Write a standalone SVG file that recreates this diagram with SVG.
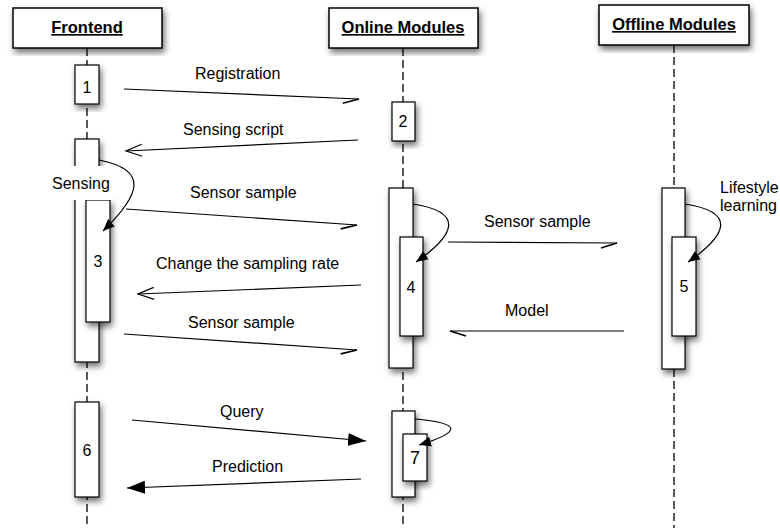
<svg xmlns="http://www.w3.org/2000/svg" width="780" height="528" viewBox="0 0 780 528">
  <defs>
    <filter id="shadow" x="-50%" y="-20%" width="200%" height="140%">
      <feDropShadow dx="2" dy="4" stdDeviation="3" flood-color="#000" flood-opacity="0.55"/>
    </filter>
    <marker id="openArrow" markerWidth="20" markerHeight="14" refX="17" refY="7" orient="auto" markerUnits="userSpaceOnUse">
      <path d="M1,1 L17,7 L1,13" fill="none" stroke="#000" stroke-width="1.2"/>
    </marker>
    <marker id="halfArrowLow" markerWidth="20" markerHeight="14" refX="17" refY="7" orient="auto" markerUnits="userSpaceOnUse">
      <path d="M1,12 L17,7" fill="none" stroke="#000" stroke-width="1.6"/>
    </marker>
    <marker id="halfArrowHigh" markerWidth="20" markerHeight="14" refX="17" refY="7" orient="auto" markerUnits="userSpaceOnUse">
      <path d="M1,2 L17,7" fill="none" stroke="#000" stroke-width="1.6"/>
    </marker>
    <marker id="solidArrow" markerWidth="20" markerHeight="14" refX="18" refY="7" orient="auto" markerUnits="userSpaceOnUse">
      <path d="M0,0.5 L18,7 L0,13.5 Z" fill="#000"/>
    </marker>
    <marker id="loopArrow" markerWidth="14" markerHeight="12" refX="12" refY="6" orient="auto" markerUnits="userSpaceOnUse">
      <path d="M0,1 L12,6 L0,11 Z" fill="#000"/>
    </marker>
  </defs>
  <style>
    .head { fill: #fff; stroke: #000; stroke-width: 1.5; filter: url(#shadow); }
    .act { fill: #fff; stroke: #000; stroke-width: 1.2; filter: url(#shadow); }
    .life { stroke: #222; stroke-width: 1.5; stroke-dasharray: 8 4; fill: none; }
    .msg { stroke: #000; stroke-width: 1.2; fill: none; }
    .headText { font-family: "Liberation Sans", Arial, sans-serif; font-size: 16.5px; font-weight: bold; text-anchor: middle; fill: #000; text-decoration: underline; }
    .lbl { font-family: "Liberation Sans", Arial, sans-serif; font-size: 16px; fill: #000; }
    .num { font-family: "Liberation Sans", Arial, sans-serif; font-size: 16px; fill: #000; text-anchor: middle; }
  </style>

  <rect width="780" height="528" fill="#fff"/>

  <!-- lifelines -->
  <g id="lifelines">
    <line class="life" x1="87" y1="48" x2="87" y2="528"/>
    <line class="life" x1="403" y1="48" x2="403" y2="528"/>
    <line class="life" x1="674" y1="45" x2="674" y2="528"/>
  </g>

  <!-- participant headers -->
  <g id="frontend">
    <rect class="head" x="13" y="8" width="149" height="40"/>
    <text class="headText" x="87" y="33">Frontend</text>
  </g>
  <g id="online-modules">
    <rect class="head" x="329" y="8" width="149" height="40"/>
    <text class="headText" x="403" y="33">Online Modules</text>
  </g>
  <g id="offline-modules">
    <rect class="head" x="599" y="5" width="150" height="40"/>
    <text class="headText" x="674" y="30">Offline Modules</text>
  </g>

  <!-- activations on the frontend -->
  <g id="act-1">
    <rect class="act" x="75" y="65" width="24" height="39"/>
    <text class="num" x="87" y="93">1</text>
  </g>
  <g id="act-sensing">
    <rect class="act" x="75" y="139" width="24" height="223"/>
  </g>
  <g id="act-3">
    <rect class="act" x="86" y="200" width="24" height="122"/>
    <text class="num" x="98" y="267">3</text>
  </g>
  <g id="act-6">
    <rect class="act" x="75" y="402" width="24" height="95"/>
    <text class="num" x="87" y="456">6</text>
  </g>

  <!-- activations on the online modules -->
  <g id="act-2">
    <rect class="act" x="392" y="102" width="23" height="39"/>
    <text class="num" x="403" y="127">2</text>
  </g>
  <g id="act-online">
    <rect class="act" x="389" y="188" width="24" height="180"/>
  </g>
  <g id="act-4">
    <rect class="act" x="400" y="237" width="23" height="99"/>
    <text class="num" x="411" y="293">4</text>
  </g>
  <g id="act-query">
    <rect class="act" x="392" y="411" width="23" height="86"/>
  </g>
  <g id="act-7">
    <rect class="act" x="403" y="434" width="24" height="47"/>
    <text class="num" x="415" y="464" style="font-size:18px">7</text>
  </g>

  <!-- activations on the offline modules -->
  <g id="act-offline">
    <rect class="act" x="662" y="188" width="23" height="181"/>
  </g>
  <g id="act-5">
    <rect class="act" x="672" y="237" width="24" height="99"/>
    <text class="num" x="684" y="292">5</text>
  </g>

  <!-- messages -->
  <g id="connectors">
    <path class="msg" d="M124,89 L359,99" marker-end="url(#halfArrowLow)"/>
    <path class="msg" d="M358,140 L126,151" marker-end="url(#openArrow)"/>
    <path class="msg" d="M99,160 C150,170 140,195 103,231" marker-end="url(#loopArrow)"/>
    <path class="msg" d="M126,209 L357,225" marker-end="url(#halfArrowLow)"/>
    <path class="msg" d="M413,204 C465,212 455,235 416,262" marker-end="url(#loopArrow)"/>
    <path class="msg" d="M448,242 L617,243" marker-end="url(#halfArrowLow)"/>
    <path class="msg" d="M685,204 C737,212 727,235 688,262" marker-end="url(#loopArrow)"/>
    <path class="msg" d="M361,285 L138,294" marker-end="url(#openArrow)"/>
    <path class="msg" d="M624,331 L450,331" marker-end="url(#halfArrowHigh)"/>
    <path class="msg" d="M124,334 L357,350" marker-end="url(#halfArrowLow)"/>
    <path class="msg" d="M132,420 L366,441" marker-end="url(#solidArrow)"/>
    <path class="msg" d="M415,419 C462,423 462,432 419,445" marker-end="url(#loopArrow)"/>
    <path class="msg" d="M361,479 L127,488" marker-end="url(#solidArrow)"/>
  </g>

  <!-- message labels -->
  <g id="labels">
    <text class="lbl" x="195" y="79">Registration</text>
    <text class="lbl" x="183" y="135">Sensing script</text>
    <rect x="43" y="166" width="69" height="34" fill="#fff"/>
    <text class="lbl" x="52" y="189">Sensing</text>
    <text class="lbl" x="190" y="198">Sensor sample</text>
    <text class="lbl" x="484" y="227">Sensor sample</text>
    <text class="lbl" x="720" y="193">Lifestyle</text>
    <text class="lbl" x="720" y="211">learning</text>
    <text class="lbl" x="156" y="269">Change the sampling rate</text>
    <text class="lbl" x="505" y="316">Model</text>
    <text class="lbl" x="188" y="328">Sensor sample</text>
    <text class="lbl" x="220" y="417">Query</text>
    <text class="lbl" x="212" y="472">Prediction</text>
  </g>
</svg>
